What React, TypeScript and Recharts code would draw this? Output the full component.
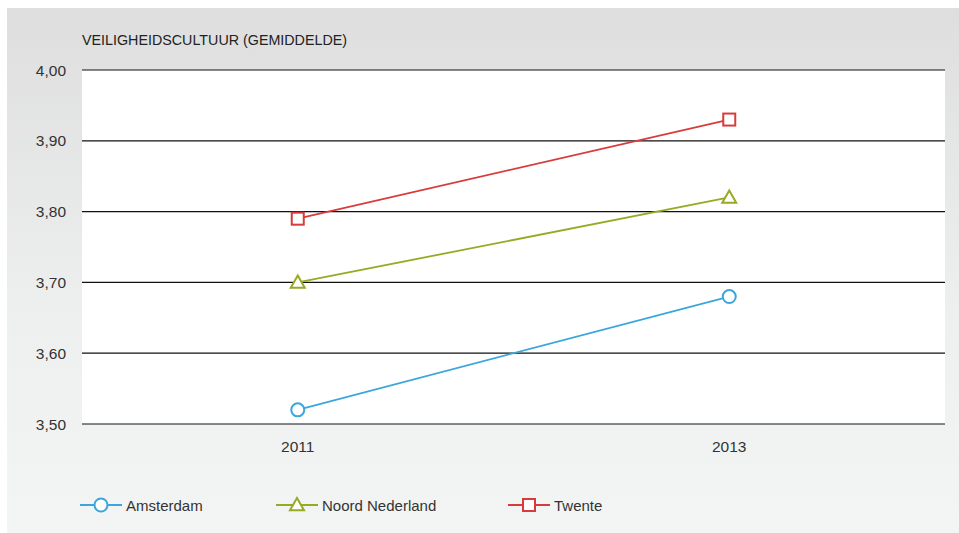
import React from 'react';
import { LineChart, Line, XAxis, YAxis, CartesianGrid, Legend } from 'recharts';

const years = ['2011', '2013'];
const amsterdam = [3.52, 3.68];
const noordNederland = [3.7, 3.82];
const twente = [3.79, 3.93];
const yTicks = [3.5, 3.6, 3.7, 3.8, 3.9, 4.0];

const seriesInfo = [
  { key: 'amsterdam', name: 'Amsterdam', color: '#3ba6de', shape: 'circle' },
  { key: 'noord', name: 'Noord Nederland', color: '#98aa24', shape: 'triangle' },
  { key: 'twente', name: 'Twente', color: '#d83b3b', shape: 'square' },
];

const data = years.map((y, i) => ({
  year: y,
  amsterdam: amsterdam[i],
  noord: noordNederland[i],
  twente: twente[i],
}));

const FONT = '"Liberation Sans", Arial, sans-serif';

function Marker({ cx, cy, shape, color }: { cx: number; cy: number; shape: string; color: string }) {
  if (cx == null || cy == null) return null;
  if (shape === 'circle') {
    return <circle cx={cx} cy={cy} r={6.5} fill="#fff" stroke={color} strokeWidth={2} />;
  }
  if (shape === 'triangle') {
    const s = 7;
    const pts = `${cx},${cy - s} ${cx - s},${cy + s * 0.75} ${cx + s},${cy + s * 0.75}`;
    return <polygon points={pts} fill="#fff" stroke={color} strokeWidth={2} />;
  }
  return <rect x={cx - 6} y={cy - 6} width={12} height={12} fill="#fff" stroke={color} strokeWidth={2} />;
}

const makeDot = (shape: string, color: string) => (props: any) => (
  <Marker key={`${shape}-${props.index}`} cx={props.cx} cy={props.cy} shape={shape} color={color} />
);

const legendPositions = [73, 269, 501];

function LegendContent() {
  return (
    <div style={{ position: 'relative', width: 900, height: 20 }}>
      {seriesInfo.map((s, i) => (
        <div
          key={s.key}
          style={{ position: 'absolute', left: legendPositions[i], top: 0, display: 'flex', alignItems: 'center', height: 20 }}
        >
          <svg width={44} height={20}>
            <line x1={0} y1={10} x2={42} y2={10} stroke={s.color} strokeWidth={2} />
            <Marker cx={21} cy={10} shape={s.shape} color={s.color} />
          </svg>
          <span style={{ fontFamily: FONT, fontSize: 15, color: '#333', marginLeft: 2 }}>{s.name}</span>
        </div>
      ))}
    </div>
  );
}

export default function App() {
  return (
    <div style={{ position: 'absolute', left: 0, top: 0, width: 959, height: 533, background: '#fff' }}>
      <div
        style={{
          position: 'absolute',
          left: 7,
          top: 8,
          width: 952,
          height: 525,
          background: 'linear-gradient(to bottom, #dedede 0%, #eeefef 60%, #f3f4f4 100%)',
        }}
      >
        <div
          style={{
            position: 'absolute',
            left: 75,
            top: 24,
            fontFamily: FONT,
            fontSize: 14.3,
            color: '#222',
            whiteSpace: 'nowrap',
          }}
        >
          VEILIGHEIDSCULTUUR (GEMIDDELDE)
        </div>
        <LineChart width={952} height={525} data={data} margin={{ top: 62, right: 14, bottom: 49, left: 15 }}>
          <CartesianGrid vertical={false} stroke="#111" strokeOpacity={1} strokeWidth={1.2} fill="#ffffff" fillOpacity={1} />
          <XAxis
            dataKey="year"
            scale="band"
            axisLine={false}
            tickLine={false}
            tickSize={6}
            tickMargin={11}
            height={40}
            tick={{ fontFamily: FONT, fontSize: 15.5, fill: '#333' }}
          />
          <YAxis
            domain={[3.5, 4.0]}
            ticks={yTicks}
            axisLine={false}
            tickLine={false}
            tickSize={6}
            tickMargin={10}
            width={60}
            interval={0}
            tickFormatter={(v: number) => v.toFixed(2).replace('.', ',')}
            tick={{ fontFamily: FONT, fontSize: 15.5, fill: '#333' }}
          />
          <Legend
            verticalAlign="bottom"
            content={() => <LegendContent />}
            wrapperStyle={{ position: 'absolute', left: 0, top: 487, width: 900 }}
          />
          {seriesInfo.map((s) => (
            <Line
              key={s.key}
              type="linear"
              dataKey={s.key}
              name={s.name}
              stroke={s.color}
              strokeWidth={1.8}
              dot={makeDot(s.shape, s.color)}
              activeDot={false}
              isAnimationActive={false}
            />
          ))}
        </LineChart>
      </div>
    </div>
  );
}
